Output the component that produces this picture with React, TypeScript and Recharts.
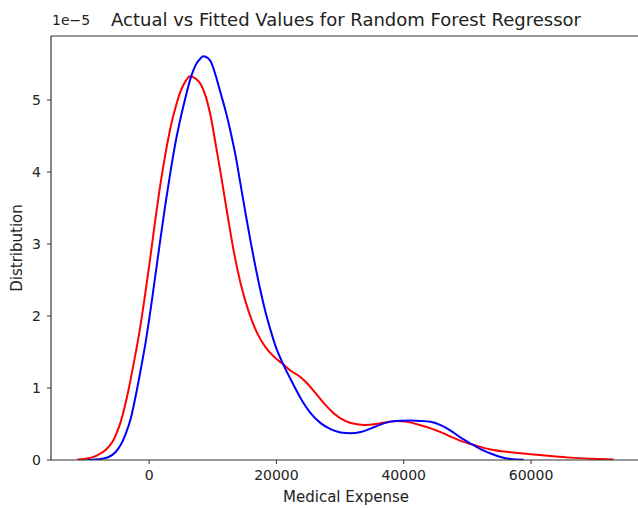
import React from "react";
import { LineChart, Line, XAxis, YAxis, ReferenceLine } from "recharts";

// Kernel density of medical expenses: actual values (red) vs. fitted values (blue).
// Densities are in units of 1e-5.
const actualExpense = [
  -11280, -9976, -8138, -6834, -5781, -5106, -4478, -3425, -2388, -1445, -660,
  79, 1021, 1807, 2592, 3378, 4164, 4949, 5734, 6410, 7305, 8091, 8876, 9662,
  10447, 11232, 12285, 13275, 14375, 15631, 16998, 18302, 19559, 20926, 22230,
  23800, 24853, 26157, 27728, 29032, 30870, 32441, 34012, 35583, 37468, 39040,
  40297, 42653, 44224, 45795, 47366, 48937, 51026, 53650, 56792, 59934, 63076,
  66218, 69360, 72973,
];
const actualDensity = [
  0.007, 0.017, 0.065, 0.139, 0.249, 0.374, 0.526, 0.896, 1.357, 1.819, 2.281,
  2.742, 3.366, 3.85, 4.266, 4.626, 4.903, 5.125, 5.263, 5.332, 5.298, 5.222, 5.055, 4.778,
  4.391, 3.989, 3.421, 2.909, 2.452, 2.064, 1.759, 1.565, 1.44, 1.339, 1.24,
  1.15, 1.062, 0.928, 0.762, 0.647, 0.54, 0.499, 0.485, 0.499, 0.529, 0.543,
  0.533, 0.482, 0.439, 0.388, 0.325, 0.266, 0.208, 0.145, 0.107, 0.08, 0.055,
  0.033, 0.019, 0.008,
];

const fittedExpense = [
  -9710, -8405, -7305, -6362, -5263, -4478, -3692, -2906, -2121, -1335, -550,
  236, 1021, 1807, 2592, 3378, 4164, 4949, 5734, 6520, 7305, 8091, 8483, 8876,
  9662, 10714, 11232, 12018, 12803, 13589, 14375, 15160, 15946, 16731, 17249,
  18302, 19087, 19873, 20926, 22230, 23800, 25372, 26943, 28514, 30085, 31656,
  33227, 34798, 36369, 37940, 39511, 41082, 42653, 44224, 45795, 47366, 48937,
  50508, 52079, 53650, 55221, 56792, 58834,
];
const fittedDensity = [
  0.003, 0.007, 0.019, 0.042, 0.111, 0.208, 0.36, 0.568, 0.886, 1.247, 1.634,
  2.091, 2.59, 3.089, 3.573, 4.017, 4.418, 4.751, 5.042, 5.305, 5.485, 5.582, 5.609, 5.602,
  5.54, 5.263, 5.097, 4.848, 4.557, 4.224, 3.823, 3.421, 3.033, 2.673, 2.452,
  2.05, 1.801, 1.579, 1.357, 1.122, 0.859, 0.651, 0.512, 0.429, 0.381, 0.37,
  0.388, 0.436, 0.492, 0.533, 0.546, 0.547, 0.543, 0.53, 0.485, 0.409, 0.312,
  0.229, 0.152, 0.09, 0.042, 0.014, 0.004,
];

const xTicks = [0, 20000, 40000, 60000];
const yTicks = [0, 1, 2, 3, 4, 5];
const xDomain: [number, number] = [-15413, 77273];
const yDomain: [number, number] = [0, 5.89];

const actualData = actualExpense.map((x, i) => ({ x, y: actualDensity[i] }));
const fittedData = fittedExpense.map((x, i) => ({ x, y: fittedDensity[i] }));

const FONT = "'DejaVu Sans', sans-serif";
const INK = "#222";
const SPINE = "#333";

export default function App() {
  return (
    <div
      style={{
        position: "absolute",
        left: 0,
        top: 0,
        width: 638,
        height: 508,
        overflow: "hidden",
        background: "#fff",
        fontFamily: FONT,
      }}
    >
      <LineChart
        width={660}
        height={508}
        margin={{ top: 36, right: 19, bottom: 3, left: 0 }}
      >
        <XAxis
          type="number"
          dataKey="x"
          domain={xDomain}
          ticks={xTicks}
          allowDataOverflow
          height={45}
          tickSize={4}
          tickMargin={6}
          tick={{ fill: INK, fontSize: 14, fontFamily: FONT }}
          stroke={SPINE}
          tickLine={{ stroke: SPINE }}
          axisLine={{ stroke: SPINE, strokeWidth: 1.2 }}
          label={{
            value: "Medical Expense",
            position: "insideBottom",
            offset: 3,
            fill: INK,
            fontSize: 15,
            fontFamily: FONT,
          }}
        />
        <YAxis
          type="number"
          dataKey="y"
          domain={yDomain}
          ticks={yTicks}
          allowDataOverflow
          width={51}
          tickSize={4}
          tickMargin={6}
          tick={{ fill: INK, fontSize: 14, fontFamily: FONT }}
          stroke={SPINE}
          tickLine={{ stroke: SPINE }}
          axisLine={{ stroke: SPINE, strokeWidth: 1.2 }}
          label={{
            value: "Distribution",
            angle: -90,
            position: "insideLeft",
            offset: 17,
            fill: INK,
            fontSize: 15,
            fontFamily: FONT,
            style: { textAnchor: "middle" },
          }}
        />
        <ReferenceLine y={yDomain[1]} stroke={SPINE} strokeWidth={1.2} />
        <Line
          data={actualData}
          dataKey="y"
          type="monotone"
          stroke="#ff0000"
          strokeWidth={2}
          dot={false}
          activeDot={false}
          isAnimationActive={false}
        />
        <Line
          data={fittedData}
          dataKey="y"
          type="monotone"
          stroke="#0000ff"
          strokeWidth={2}
          dot={false}
          activeDot={false}
          isAnimationActive={false}
        />
      </LineChart>
      <div
        style={{
          position: "absolute",
          left: 0,
          width: 692,
          top: 9,
          textAlign: "center",
          fontSize: 18,
          color: INK,
          whiteSpace: "nowrap",
        }}
      >
        Actual vs Fitted Values for Random Forest Regressor
      </div>
      <div
        style={{
          position: "absolute",
          left: 52,
          top: 12,
          fontSize: 14,
          color: INK,
          whiteSpace: "nowrap",
        }}
      >
        1e−5
      </div>
    </div>
  );
}
